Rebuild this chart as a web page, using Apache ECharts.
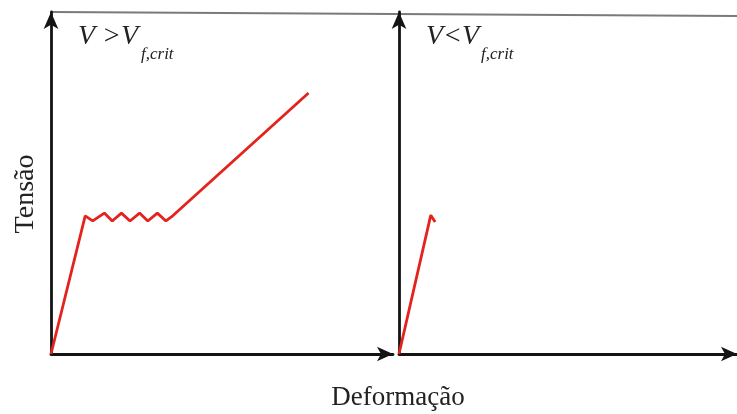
<!DOCTYPE html>
<html>
<head>
<meta charset="utf-8">
<script src="https://cdn.jsdelivr.net/npm/echarts@6/dist/echarts.min.js"></script>
<style>
  html, body { margin: 0; padding: 0; background: #ffffff; }
  #chart { width: 737px; height: 414px; }
</style>
</head>
<body>
<div id="chart"></div>
<script>
// Tensão × Deformação, two regimes of fibre volume fraction (arbitrary units)
const strainAbove = [0, 10.0, 12.2, 15.6, 17.9, 20.6, 23.1, 25.9, 28.3, 31.1, 33.6, 35.6, 75.3];
const stressAbove = [0, 40.4, 38.9, 41.2, 38.9, 41.2, 38.9, 41.2, 38.9, 41.2, 38.9, 40.4, 76.3];
const strainBelow = [0, 9.4, 10.7];
const stressBelow = [0, 40.6, 38.6];

const panelTitles = ['V >V', 'V<V'];
const subscript = 'f,crit';
const xTitle = 'Deformação';
const yTitle = 'Tensão';

const pairs = (xs, ys) => xs.map((x, i) => [x, ys[i]]);

const serif = '"Liberation Serif", "DejaVu Serif", serif';
const axisColor = '#141414';
const red = '#e3231c';

function axisLine(arrowSize) {
  return {
    show: true,
    symbol: ['none', 'arrow'],
    symbolSize: arrowSize,
    lineStyle: { color: axisColor, width: 2.8 }
  };
}

function valueAxis(gridIndex, arrowSize) {
  return {
    type: 'value',
    gridIndex,
    min: 0,
    max: 100,
    axisLine: axisLine(arrowSize),
    axisTick: { show: false },
    axisLabel: { show: false },
    splitLine: { show: false }
  };
}

const chart = echarts.init(document.getElementById('chart'), null, { renderer: 'canvas' });

chart.setOption({
  backgroundColor: '#ffffff',
  animation: false,
  grid: [
    { left: 51, top: 12, width: 342, height: 342 },
    { left: 399, top: 12, width: 338, height: 342 }
  ],
  xAxis: [valueAxis(0, [11, 16]), valueAxis(1, [11, 16])],
  yAxis: [valueAxis(0, [11, 17]), valueAxis(1, [11, 17])],
  series: [
    {
      type: 'line',
      xAxisIndex: 0,
      yAxisIndex: 0,
      data: pairs(strainAbove, stressAbove),
      showSymbol: false,
      lineStyle: { color: red, width: 2.8 },
      z: 1
    },
    {
      type: 'line',
      xAxisIndex: 1,
      yAxisIndex: 1,
      data: pairs(strainBelow, stressBelow),
      showSymbol: false,
      lineStyle: { color: red, width: 2.8 },
      z: 1
    }
  ],
  graphic: [
    {
      type: 'line',
      shape: { x1: 52, y1: 12, x2: 737, y2: 16 },
      style: { stroke: '#7a7a7a', lineWidth: 2 },
      z: 0
    },
    {
      type: 'text',
      left: 78, top: 23,
      style: { text: panelTitles[0], font: 'italic 28px ' + serif, fill: '#222' }
    },
    {
      type: 'text',
      left: 141, top: 46,
      style: { text: subscript, font: 'italic 17px ' + serif, fill: '#222' }
    },
    {
      type: 'text',
      left: 426, top: 23,
      style: { text: panelTitles[1], font: 'italic 28px ' + serif, fill: '#222' }
    },
    {
      type: 'text',
      left: 481, top: 46,
      style: { text: subscript, font: 'italic 17px ' + serif, fill: '#222' }
    },
    {
      type: 'text',
      x: 398, y: 398,
      style: { text: xTitle, font: '27px ' + serif, fill: '#222', align: 'center', verticalAlign: 'middle' }
    },
    {
      type: 'text',
      x: 26, y: 194,
      rotation: Math.PI / 2,
      style: { text: yTitle, font: '28px ' + serif, fill: '#222', align: 'center', verticalAlign: 'middle' }
    }
  ]
});
</script>
</body>
</html>
